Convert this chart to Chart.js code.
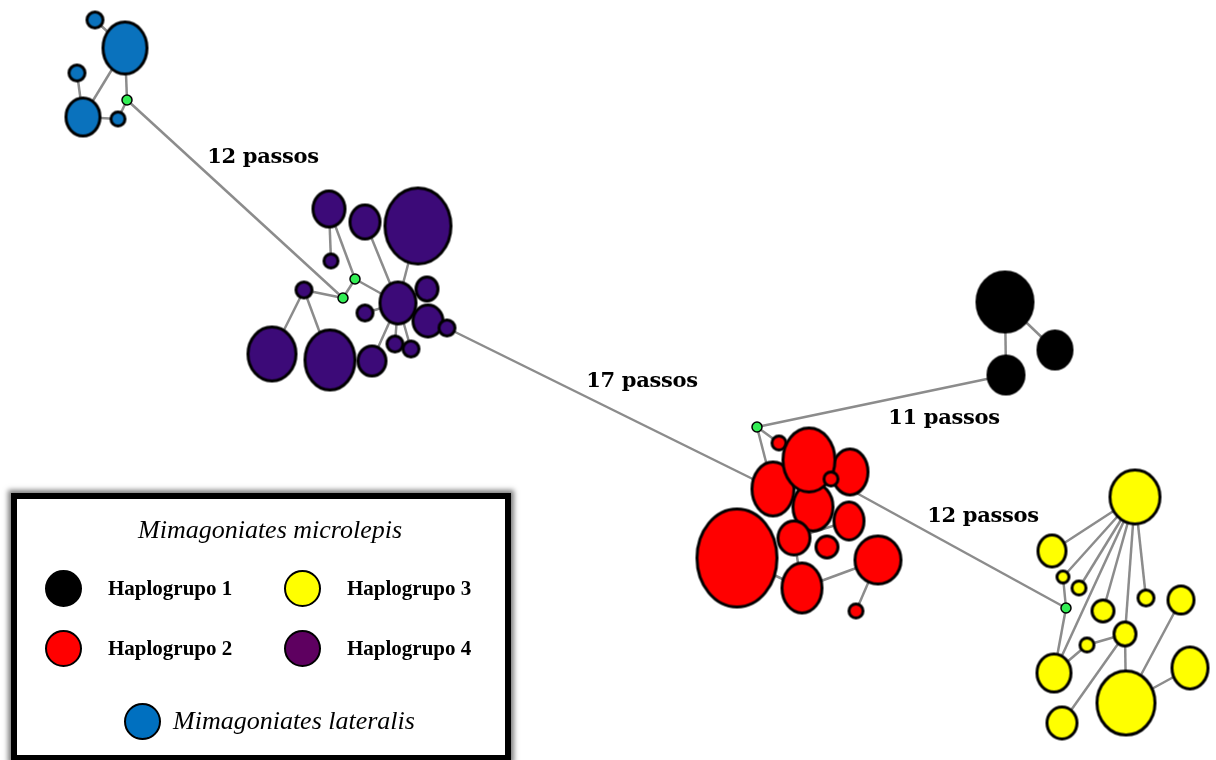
<!DOCTYPE html>
<html>
<head>
<meta charset="utf-8">
<title>Rede de haplótipos</title>
<script src="https://cdn.jsdelivr.net/npm/chart.js@4.4.1/dist/chart.umd.min.js"></script>
<style>
  body { margin: 0; background: #fff; }
  #wrap { position: relative; width: 1216px; height: 760px; overflow: hidden; }
  .step { position: absolute; transform: translate(-50%, -50%); font: bold 21px "DejaVu Serif", serif; color: #000; white-space: nowrap; letter-spacing: -0.3px; }
  #legend { position: absolute; left: 11px; top: 493px; width: 500px; height: 268px; box-sizing: border-box;
            border: 6px solid #000; background: #fff; box-shadow: 0 0 5px 3px rgba(0,0,0,0.5); }
  #legend .txt { position: absolute; transform: translateY(-50%); white-space: nowrap; color: #000; }
  #legend .sp { font: italic 26px "Liberation Serif", serif; }
  #legend .grp { font: bold 21px "Liberation Serif", serif; }
  #legend .dot { position: absolute; width: 37px; height: 37px; box-sizing: border-box; border: 2px solid #000; border-radius: 50%; }
</style>
</head>
<body>
<div id="wrap">
  <canvas id="net" width="1216" height="760"></canvas>
  <div id="legend"></div>
</div>
<script>
// haplotype nodes (position, rx/ry = node size)
const nodeX  = [95, 125, 77, 83, 118, 127,
                329, 365, 418, 331, 355, 343, 304, 398, 427, 365, 428, 447, 272, 330, 372, 395, 411,
                757, 779, 773, 813, 850, 809, 831, 849, 794, 827, 737, 802, 878, 856,
                1005, 1055, 1006,
                1135, 1052, 1063, 1079, 1066, 1103, 1146, 1181, 1125, 1087, 1054, 1126, 1190, 1062];
const nodeY  = [20, 48, 73, 117, 119, 100,
                209, 222, 226, 261, 279, 298, 290, 303, 289, 313, 321, 328, 354, 360, 361, 344, 349,
                427, 443, 489, 507, 472, 460, 479, 521, 538, 547, 558, 588, 560, 611,
                302, 350, 375,
                497, 551, 577, 588, 608, 611, 598, 600, 634, 645, 673, 703, 668, 723];
const nodeRx = [8, 22, 8, 17, 7, 5,
                16, 15, 33, 7, 5, 5, 8, 18, 11, 8, 15, 8, 24, 25, 14, 8, 8,
                5, 7, 21, 20, 18, 26, 7, 15, 16, 11, 40, 20, 23, 7,
                28, 17, 18,
                25, 14, 6, 7, 5, 11, 8, 13, 11, 7, 17, 29, 18, 15];
const nodeRy = [8, 26, 8, 19, 7, 5,
                18, 17, 38, 7, 5, 5, 8, 21, 12, 8, 16, 8, 27, 30, 15, 8, 8,
                5, 7, 27, 24, 23, 32, 7, 19, 17, 11, 49, 25, 24, 7,
                30, 19, 19,
                27, 16, 6, 7, 5, 11, 8, 14, 12, 7, 19, 32, 21, 16];
const nodeGroup = ['L', 'L', 'L', 'L', 'L', 'MV',
                'H4', 'H4', 'H4', 'H4', 'MV', 'MV', 'H4', 'H4', 'H4', 'H4', 'H4', 'H4', 'H4', 'H4', 'H4', 'H4', 'H4',
                'MV', 'H2', 'H2', 'H2', 'H2', 'H2', 'H2', 'H2', 'H2', 'H2', 'H2', 'H2', 'H2', 'H2',
                'H1', 'H1', 'H1',
                'H3', 'H3', 'H3', 'H3', 'MV', 'H3', 'H3', 'H3', 'H3', 'H3', 'H3', 'H3', 'H3', 'H3'];

// links between haplotypes (node indices)
const edgeFrom = [0, 1, 1, 2, 3, 4, 5,
                  6, 6, 7, 8, 10, 10, 11, 12, 12, 15, 13, 13, 16, 13, 13, 13, 17,
                  23, 23, 23, 25, 26, 33, 34, 35, 31, 31, 29,
                  37, 37,
                  40, 40, 40, 40, 40, 40, 40, 42, 44, 50, 49, 48, 48, 51, 51];
const edgeTo   = [1, 3, 5, 3, 4, 5, 11,
                  9, 10, 13, 13, 13, 11, 12, 18, 19, 13, 14, 16, 17, 20, 21, 22, 25,
                  24, 25, 39, 26, 31, 34, 35, 36, 34, 30, 44,
                  38, 39,
                  41, 42, 43, 50, 45, 48, 46, 44, 50, 49, 48, 53, 51, 52, 47];

const groupNames  = ['H1', 'H3', 'H2', 'H4', 'L'];
const groupLabels = ['Haplogrupo 1', 'Haplogrupo 3', 'Haplogrupo 2', 'Haplogrupo 4', 'Mimagoniates lateralis'];
const legendTitle = 'Mimagoniates microlepis';

const stepLabels = ['12 passos', '17 passos', '11 passos', '12 passos'];
const stepX = [263, 642, 944, 983];
const stepY = [155, 379, 416, 514];

const fillColors = { L: '#0a72bd', H1: '#000000', H2: '#ff0000', H3: '#ffff00', H4: '#3c0a78', MV: '#33ee55' };
const legendColors = { L: '#0070c0', H1: '#000000', H2: '#ff0000', H3: '#ffff00', H4: '#5e0060' };

function ellipseImage(rx, ry, fill, lw) {
    const c = document.createElement('canvas');
    c.width = Math.ceil(2 * rx + lw + 2);
    c.height = Math.ceil(2 * ry + lw + 2);
    const g = c.getContext('2d');
    g.beginPath();
    g.ellipse(c.width / 2, c.height / 2, rx, ry, 0, 0, Math.PI * 2);
    g.fillStyle = fill;
    g.fill();
    g.lineWidth = lw;
    g.strokeStyle = '#000';
    g.stroke();
    return c;
}

const nodeImages = nodeX.map((x, i) =>
    ellipseImage(nodeRx[i], nodeRy[i], fillColors[nodeGroup[i]], nodeGroup[i] === 'MV' ? 1.5 : 3));

const edgeSets = edgeFrom.map((a, i) => {
    const b = edgeTo[i];
    return {
        data: [{ x: nodeX[a], y: nodeY[a] }, { x: nodeX[b], y: nodeY[b] }],
        showLine: true,
        borderColor: '#8c8c8c',
        borderWidth: 2.5,
        pointRadius: 0,
        clip: false,
        order: 2
    };
});

const nodeSet = {
    data: nodeX.map((x, i) => ({ x: x, y: nodeY[i] })),
    showLine: false,
    pointRadius: nodeX.map((x, i) => Math.max(nodeRx[i], nodeRy[i])),
    pointStyle: nodeImages,
    clip: false,
    order: 1
};

// text labels for mutational steps
const wrap = document.getElementById('wrap');
const stepDivs = stepLabels.map(t => {
    const d = document.createElement('div');
    d.className = 'step';
    d.textContent = t;
    wrap.appendChild(d);
    return d;
});

const placeLabels = {
    id: 'placeLabels',
    afterDraw(chart) {
        const sx = chart.scales.x, sy = chart.scales.y;
        stepDivs.forEach((d, i) => {
            d.style.left = sx.getPixelForValue(stepX[i]) + 'px';
            d.style.top = sy.getPixelForValue(stepY[i]) + 'px';
        });
    }
};

new Chart(document.getElementById('net'), {
    type: 'scatter',
    data: { datasets: edgeSets.concat([nodeSet]) },
    options: {
        responsive: false,
        animation: false,
        layout: { padding: 0, autoPadding: false },
        plugins: { legend: { display: false }, tooltip: { enabled: false } },
        scales: {
            x: { type: 'linear', min: 0, max: 1216, display: false },
            y: { type: 'linear', min: 0, max: 760, reverse: true, display: false }
        }
    },
    plugins: [placeLabels]
});

// legend box (page coords minus box inner origin 17,499)
const legend = document.getElementById('legend');
function addText(cls, text, left, cy) {
    const d = document.createElement('div');
    d.className = 'txt ' + cls;
    d.textContent = text;
    d.style.left = (left - 17) + 'px';
    d.style.top = (cy - 499) + 'px';
    legend.appendChild(d);
}
function addDot(color, cx, cy) {
    const d = document.createElement('div');
    d.className = 'dot';
    d.style.background = color;
    d.style.left = (cx - 18.5 - 17) + 'px';
    d.style.top = (cy - 18.5 - 499) + 'px';
    legend.appendChild(d);
}
addText('sp', legendTitle, 138, 530);
const dotX = [63, 302, 63, 302, 142];
const dotY = [588, 588, 648, 648, 721];
groupNames.forEach((g, i) => {
    addDot(legendColors[g], dotX[i], dotY[i]);
    if (g === 'L') addText('sp', groupLabels[i], 173, dotY[i]);
    else addText('grp', groupLabels[i], dotX[i] + 45, dotY[i]);
});
</script>
</body>
</html>
